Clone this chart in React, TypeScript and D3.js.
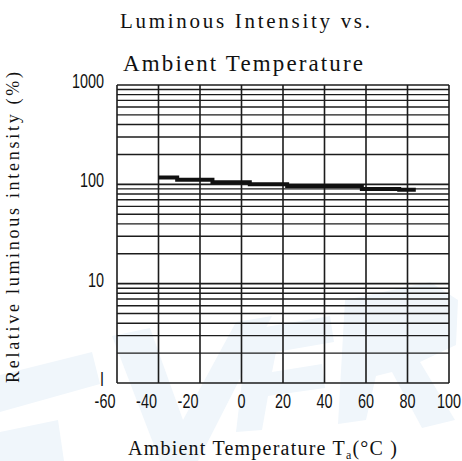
import React from "react";
import * as d3 from "d3";

const W = 462;
const H = 461;

// Data
const temps = [-40, -31, -14, 4, 22, 58, 76, 84];
const intensity = [117, 111, 105, 100, 96, 90, 88, 88];

const xTicks = [-60, -40, -20, 0, 20, 40, 60, 80, 100];
const yTicks = [1, 10, 100, 1000];
const yTickLabels = ["I", "10", "100", "1000"];

const titleLines = ["Luminous Intensity vs.", "Ambient Temperature"];
const xTitle = "Ambient Temperature T";
const yTitle = "Relative luminous intensity (%)";

const watermark: [number, number][][] = [
  [[0, 375], [92, 352], [100, 384], [0, 412]],
  [[0, 432], [58, 420], [64, 461], [0, 461]],
  [[112, 336], [150, 328], [183, 420], [236, 322], [272, 316], [198, 461], [160, 461]],
  [[248, 330], [330, 316], [334, 342], [276, 352], [272, 372], [322, 364], [325, 388], [268, 396], [262, 430], [236, 432]],
  [[345, 300], [430, 282], [458, 300], [456, 345], [420, 362], [455, 420], [422, 428], [392, 372], [376, 376], [366, 420], [338, 424]],
];

export default function App() {
  const x = d3.scaleLinear().domain([-60, 100]).range([117, 449]);
  const y = d3.scaleLog().domain([1, 1000]).range([383, 85]);

  const minor: number[] = [];
  for (const dec of [1, 10, 100]) {
    for (let k = 2; k <= 9; k++) minor.push(dec * k);
  }

  const line = d3
    .line<number>()
    .x((_, i) => x(temps[i]))
    .y((d) => y(d))
    .curve(d3.curveStepAfter);

  const gridColor = "#1c1c1c";
  const digitFont = "'Liberation Sans', Arial, sans-serif";
  const serif = "'Liberation Serif', 'Times New Roman', serif";

  return (
    <svg
      width={W}
      height={H}
      style={{ position: "absolute", left: 0, top: 0, background: "#fff" }}
    >
      <rect x={0} y={0} width={W} height={H} fill="#fff" />
      {watermark.map((p, i) => (
        <polygon key={i} points={p.map((q) => q.join(",")).join(" ")} fill="#f0f6fb" />
      ))}

      {/* title */}
      <text x={245} y={28} textAnchor="middle" fontFamily={serif} fontSize={21} textLength={250} lengthAdjust="spacing" fill="#111">
        {titleLines[0]}
      </text>
      <text x={243} y={71} textAnchor="middle" fontFamily={serif} fontSize={23} textLength={240} lengthAdjust="spacing" fill="#111">
        {titleLines[1]}
      </text>

      {/* horizontal minor grid */}
      {minor.map((v) => (
        <line key={"m" + v} x1={x(-60)} x2={x(100)} y1={y(v)} y2={y(v)} stroke={gridColor} strokeWidth={1.4} />
      ))}
      {yTicks.map((v) => (
        <line key={"M" + v} x1={x(-60)} x2={x(100)} y1={y(v)} y2={y(v)} stroke={gridColor} strokeWidth={1.6} />
      ))}
      {/* vertical grid */}
      {xTicks.map((v) => (
        <line key={"v" + v} x1={x(v)} x2={x(v)} y1={y(1)} y2={y(1000)} stroke={gridColor} strokeWidth={1.6} />
      ))}

      {/* data */}
      <path d={line(intensity) || ""} fill="none" stroke="#111" strokeWidth={4} />

      {/* y tick labels */}
      {yTicks.map((v, i) => (
        <text
          key={"yl" + v}
          transform={`translate(104,${y(v) + 3}) scale(0.72,1)`}
          textAnchor="end"
          fontFamily={digitFont}
          fontSize={20}
          fill="#111"
        >
          {yTickLabels[i]}
        </text>
      ))}

      {/* x tick labels */}
      {xTicks.map((v) => (
        <text
          key={"xl" + v}
          transform={`translate(${x(v) + (v < 0 ? -12 : 0)},408) scale(0.72,1)`}
          textAnchor="middle"
          fontFamily={digitFont}
          fontSize={20}
          fill="#111"
        >
          {v < 0 ? "-" + Math.abs(v) : String(v)}
        </text>
      ))}

      {/* x title */}
      <text x={128} y={455} fontFamily={serif} fontSize={20} fill="#111" textLength={269} lengthAdjust="spacing">
        {xTitle}
        <tspan fontSize={12} dy={4}>a</tspan>
        <tspan dy={-4}>(°C )</tspan>
      </text>

      {/* y title */}
      <text
        transform={`translate(19,227.5) rotate(-90)`}
        textAnchor="middle"
        fontFamily={serif}
        fontSize={18}
        fill="#111"
        textLength={311}
        lengthAdjust="spacing"
      >
        {yTitle}
      </text>
    </svg>
  );
}
